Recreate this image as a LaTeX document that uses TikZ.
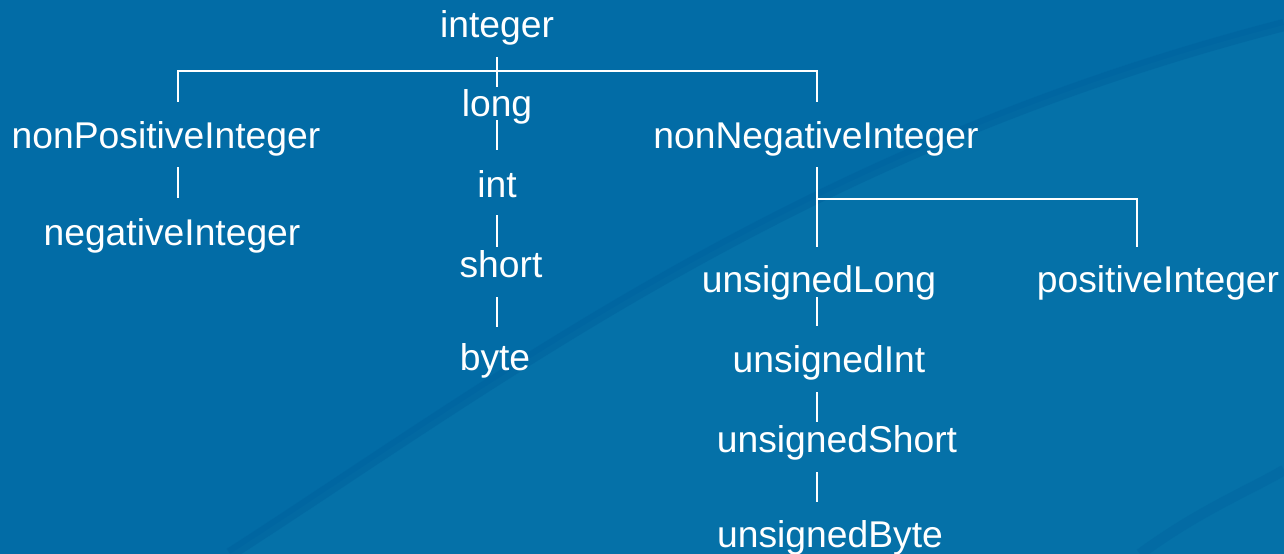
\documentclass[tikz,border=0pt]{standalone}
\usepackage{fontspec}
\setmainfont{Liberation Sans}
\usepackage{xcolor}
\definecolor{bgblue}{RGB}{2,108,166}
\definecolor{bglight}{RGB}{5,113,168}
\definecolor{bgdark}{RGB}{0,98,158}

\begin{document}
\begin{tikzpicture}[x=0.02cm,y=-0.02cm,
    typ/.style={anchor=base,text=white,inner sep=0pt,font=\fontsize{21.2}{25}\selectfont},
    link/.style={draw=white,line width=1.1pt}]
    % Background
    \useasboundingbox (0,0) rectangle (1284,554);
    \fill[bgblue] (0,0) rectangle (1284,554);
    \fill[bglight] (230,554) .. controls (500,380) and (800,150) .. (1284,25) -- (1284,554) -- cycle;
    \draw[bgdark,line width=7pt,opacity=0.5] (230,554) .. controls (500,380) and (800,150) .. (1284,25);
    \draw[bgdark,line width=6pt,opacity=0.4] (1140,554) .. controls (1200,510) and (1250,490) .. (1284,470);

    % Root
    \node[typ] (integer) at (497,38) {integer};

    % Left branch
    \node[typ] (nPI) at (166,149) {nonPositiveInteger};
    \node[typ] (negI) at (172,245) {negativeInteger};

    % Middle branch
    \node[typ] (long) at (497,116) {long};
    \node[typ] (int) at (497,197) {int};
    \node[typ] (short) at (501,277) {short};
    \node[typ] (byte) at (495,370) {byte};

    % Right branch
    \node[typ] (nnI) at (816,149) {nonNegativeInteger};
    \node[typ] (uLong) at (819,292) {unsignedLong};
    \node[typ] (uInt) at (829,372) {unsignedInt};
    \node[typ] (uShort) at (837,452) {unsignedShort};
    \node[typ] (uByte) at (830,547) {unsignedByte};
    \node[typ] (posI) at (1158,292) {positiveInteger};

    % Connectors
    \draw[link] (integer.base) ++(0,19) -- ++(0,30);
    \draw[link] (nPI.base) ++(12,-47) -- ++(0,-31) -- ++(639,0) -- ++(0,31);
    \draw[link] (nPI.base) ++(12,18) -- ++(0,31);
    \draw[link] (long.base) ++(0,4) -- ++(0,30);
    \draw[link] (int.base) ++(0,18) -- ++(0,32);
    \draw[link] (short.base) ++(-4,20) -- ++(0,30);
    \draw[link] (nnI.base) ++(1,18) -- ++(0,80);
    \draw[link] (nnI.base) ++(1,50) -- ++(320,0) -- ++(0,48);
    \draw[link] (uLong.base) ++(-2,5) -- ++(0,29);
    \draw[link] (uInt.base) ++(-12,20) -- ++(0,30);
    \draw[link] (uShort.base) ++(-20,20) -- ++(0,30);
\end{tikzpicture}
\end{document}
